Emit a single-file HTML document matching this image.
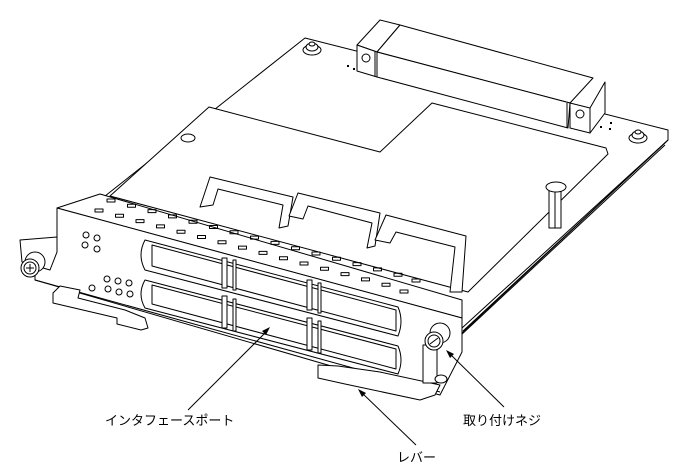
<!DOCTYPE html>
<html><head><meta charset="utf-8"><style>
html,body{margin:0;padding:0;background:#fff;}
svg{display:block}
text{font-family:"Liberation Sans","Noto Sans CJK JP",sans-serif;font-size:13px;fill:#000}
</style></head><body>
<svg width="688" height="470" viewBox="0 0 688 470" xmlns="http://www.w3.org/2000/svg">
<g fill="#fff" stroke="#000" stroke-width="1" stroke-linejoin="round">
<polygon points="305,38 668,130 668,140 462,328 100,200"/>
<polyline fill="none" points="668,140 462,333"/>
<polyline fill="none" points="665,145 460,336"/>
<line x1="666" y1="142" x2="463" y2="331"/>
<polygon points="209,107 380,152 432,103 606,148 608,154 468,292 110,196"/>
<rect x="549" y="188" width="12" height="40"/>
<line x1="555" y1="190" x2="555" y2="228"/>
<ellipse cx="556" cy="187" rx="10" ry="5"/>
<ellipse cx="188" cy="138" rx="7" ry="4"/>
<ellipse cx="312" cy="50" rx="9" ry="5"/><ellipse cx="312" cy="47" rx="6" ry="4"/><ellipse cx="312" cy="44" rx="3" ry="2"/>
<ellipse cx="638" cy="138" rx="9" ry="5"/><ellipse cx="638" cy="135" rx="6" ry="4"/><ellipse cx="638" cy="132" rx="3" ry="2"/>
<polygon points="357,45 380,20 400,25 377,52"/>
<polygon points="377,52 400,25 593,78 570,103"/>
<polygon points="377,52 570,103 568,128 377,77"/>
<polygon points="357,45 377,52 377,77 357,71"/>
<line x1="375" y1="51" x2="375" y2="76"/>
<polygon points="570,103 590,108 590,133 570,128"/>
<polygon points="590,108 605,82 605,113 590,133"/>
<line x1="567" y1="103" x2="567" y2="128"/>
<circle cx="366" cy="58" r="4"/><circle cx="580" cy="114" r="4"/>
<g fill="#000" stroke="none"><rect x="347" y="65" width="2" height="2"/><rect x="353" y="68" width="2" height="2"/><rect x="600" y="126" width="2" height="2"/><rect x="609" y="128" width="2" height="2"/><rect x="610" y="122" width="2" height="2"/></g>
<polygon points="200,207 210,177 293,197 288,226 279,228 283,205 218,189 213,205"/>
<polygon points="289,216 298,193 380,213 375,246 367,248 372,223 308,206 303,219"/>
<polygon points="375,240 386,215 466,236 462,292 450,292 455,247 396,232 390,243"/>
<polygon points="57,208 100,194 462,300 462,318"/>
<polygon points="57,208 462,318 462,352 440,395 345,370 35,280 35,255 57,252"/>
<polygon points="20,240 57,237 57,252 50,270 22,262"/>
<line x1="35" y1="280" x2="440" y2="392"/>
<g fill="none">
<path d="M107,199h8v3h-8z M127.5,204.3h8v3h-8z M148,209.6h8v3h-8z M168.5,214.9h8v3h-8z M189,220.2h8v3h-8z M209.5,225.5h8v3h-8z M230,230.8h8v3h-8z M250.5,236.1h8v3h-8z M271,241.4h8v3h-8z M291.5,246.7h8v3h-8z M312,252h8v3h-8z M332.5,257.3h8v3h-8z M353,262.6h8v3h-8z M373.5,267.9h8v3h-8z M394,273.2h8v3h-8z M412,279h8v3h-8z"/>
<path d="M95,209h8v3h-8z M115.5,214.3h8v3h-8z M136,219.6h8v3h-8z M156.5,224.9h8v3h-8z M177,230.2h8v3h-8z M197.5,235.5h8v3h-8z M218,240.8h8v3h-8z M238.5,246.1h8v3h-8z M259,251.4h8v3h-8z M279.5,256.7h8v3h-8z M300,262h8v3h-8z M320.5,267.3h8v3h-8z M341,272.6h8v3h-8z M361.5,277.9h8v3h-8z M382,283.2h8v3h-8z M400,290h8v3h-8z"/>
</g>
<path d="M145,240 L398,307 Q404,321 398,336 L145,270 Q137,255 145,240 Z"/>
<polygon points="152,245 396,310 396,331 152,266"/>
<path d="M145,280 L398,346 Q404,360 398,374 L145,308 Q137,294 145,280 Z"/>
<polygon points="152,285 396,349 396,369 152,304"/>
<g fill="#fff">
<rect x="222" y="258" width="5" height="30"/><rect x="233" y="260" width="3" height="30"/>
<rect x="307" y="280" width="5" height="30"/><rect x="318" y="283" width="3" height="30"/>
<rect x="222" y="296" width="5" height="32"/><rect x="233" y="299" width="3" height="32"/>
<rect x="307" y="318" width="5" height="32"/><rect x="318" y="321" width="3" height="32"/>
</g>
<circle cx="86" cy="235" r="3"/><circle cx="97" cy="238" r="3"/><circle cx="85" cy="245" r="3"/><circle cx="97" cy="249" r="3"/>
<circle cx="107" cy="279" r="3"/><circle cx="118" cy="281" r="3"/><circle cx="129" cy="283" r="3"/><circle cx="108" cy="289" r="3"/><circle cx="119" cy="292" r="3"/><circle cx="130" cy="294" r="3"/><circle cx="92" cy="288" r="3"/>
<polygon points="53,293 60,286 80,290 78,298 125,310 145,318 148,328 141,330 117,324 117,318 53,303"/>
<polygon points="318,365 318,378 345,384 420,400 435,395 440,385 380,372 338,366"/>
<circle cx="35" cy="262" r="10"/><circle cx="30" cy="268" r="9"/><circle cx="30" cy="268" r="6"/>
<line x1="26" y1="268" x2="34" y2="268"/><line x1="30" y1="264" x2="30" y2="272"/>
<rect x="423" y="345" width="14" height="38"/>
<circle cx="440" cy="333" r="10"/><circle cx="434" cy="341" r="9"/><circle cx="434" cy="341" r="6"/>
<line x1="430" y1="344" x2="438" y2="338"/>
<ellipse cx="441" cy="379" rx="6" ry="4"/>
</g>
<g stroke="#000" stroke-width="1" fill="none">
<line x1="188" y1="410" x2="268" y2="330"/>
<line x1="504" y1="407" x2="449" y2="353"/>
<line x1="416" y1="445" x2="361" y2="392"/>
</g>
<g fill="#000">
<polygon points="270,327 262,331 266,335"/>
<polygon points="446,350 450,358 454,354"/>
<polygon points="358,389 362,397 366,393"/>
</g>
<text x="105" y="425">インタフェースポート</text>
<text x="463" y="425">取り付けネジ</text>
<text x="397" y="462">レバー</text>
</svg>
</body></html>
